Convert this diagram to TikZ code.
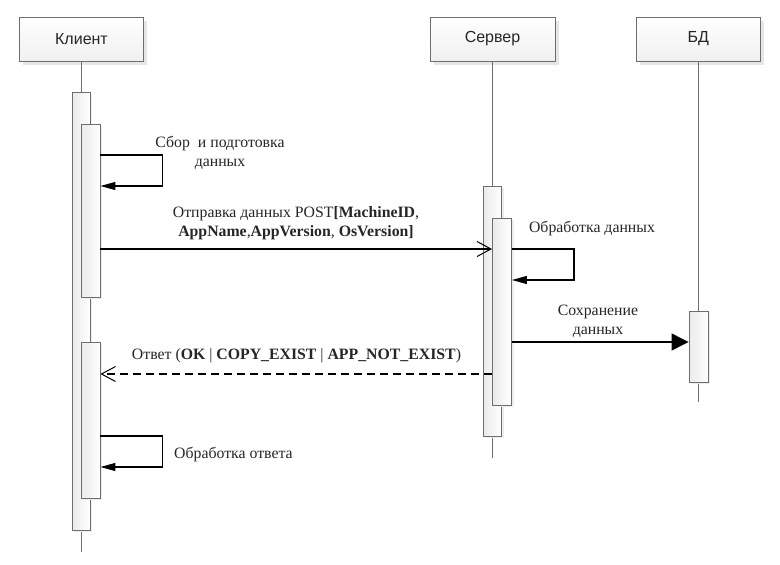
\documentclass[tikz,border=0pt]{standalone}
\usepackage{fontspec}
\setmainfont{Liberation Serif}
\newfontfamily\headfont{Liberation Sans}
\usetikzlibrary{arrows.meta,shadows}
\definecolor{edgegray}{HTML}{6E6E6E}
\definecolor{shadowgray}{HTML}{E6E6E6}
\begin{document}
\begin{tikzpicture}[x=1pt,y=-1pt,
  head/.style={draw=edgegray, line width=1pt, top color=white, bottom color=black!6,
    minimum height=44pt, inner sep=0pt, font=\headfont\fontsize{16}{18}\selectfont, text=black!85,
    general shadow={fill=shadowgray, shadow xshift=3.5pt, shadow yshift=-3.5pt}},
  life/.style={draw=edgegray, line width=0.9pt},
  act/.style={draw=edgegray, line width=0.9pt, left color=black!8, right color=white, inner sep=0pt,
    general shadow={fill=shadowgray!70, shadow xshift=2pt, shadow yshift=-2pt}},
  msg/.style={draw=black, line width=1.2pt},
  lbl/.style={font=\fontsize{15.8}{19}\selectfont, align=center, inner sep=0pt, text=black!85},
  selfarrow/.style={msg, -{Triangle[length=15pt,width=8pt]}},
  openarrow/.style={msg, -{Straight Barb[length=14pt,width=15pt,line width=1pt]}},
  fillarrow/.style={msg, -{Triangle[length=17pt,width=17pt]}},
]
\useasboundingbox (0,0) rectangle (780,565);

% headers
\node[head, minimum width=124pt] (kl) at (81.5,39) {Клиент};
\node[head, minimum width=125pt] (sv) at (492.5,39) {Сервер};
\node[head, minimum width=123.5pt] (bd) at (698.3,39) {БД};

% lifeline ends
\coordinate (klend) at (81,552);
\coordinate (svend) at (492.5,458);
\coordinate (bdend) at (698.3,402);
\draw[life] (kl.south -| klend) -- (klend);
\draw[life] (sv.south -| svend) -- (svend);
\draw[life] (bd.south -| bdend) -- (bdend);

% activations
\node[act, minimum width=18pt, minimum height=438pt] (ca0) at (81,311) {};
\node[act, minimum width=19pt, minimum height=173pt] (ca1) at (90.5,210.5) {};
\node[act, minimum width=19pt, minimum height=156pt] (ca2) at (90.5,420) {};
\node[act, minimum width=18pt, minimum height=250pt] (so0) at (492.5,311) {};
\node[act, minimum width=19pt, minimum height=187pt] (si) at (502,311.5) {};
\node[act, minimum width=19pt, minimum height=71pt] (db) at (698.5,346.5) {};

% messages
\draw[selfarrow] (ca1.east |- 0,155) -- ++(62,0) -- ++(0,31) -- (ca1.east |- 0,186);
\node[lbl] (l1) at (220,153) {Сбор\ \ и подготовка\\данных};

\draw[openarrow] (ca1.east |- 0,249) -- (si.west |- 0,249);
\node[lbl] (l2) at (296,223) {Отправка данных POST\textbf{[MachineID},\\
  \textbf{AppName},\textbf{AppVersion}, \textbf{OsVersion]}};

\draw[selfarrow] (si.east |- 0,249) -- ++(62,0) -- ++(0,31) -- (si.east |- 0,280);
\node[lbl] (l3) at (592,229) {Обработка данных};

\draw[fillarrow] (si.east |- 0,342) -- (db.west |- 0,342);
\node[lbl] (l4) at (598,321) {Сохранение\\данных};

\draw[openarrow, dash pattern=on 8pt off 5pt] (si.west |- 0,374) -- (ca2.east |- 0,374);
\node[lbl] (l5) at (296.5,356) {Ответ (\textbf{OK} | \textbf{COPY\_EXIST} | \textbf{APP\_NOT\_EXIST})};

\draw[selfarrow] (ca2.east |- 0,436) -- ++(62,0) -- ++(0,31) -- (ca2.east |- 0,467);
\node[lbl, anchor=west] (l6) at (174,455) {Обработка ответа};
\end{tikzpicture}
\end{document}
